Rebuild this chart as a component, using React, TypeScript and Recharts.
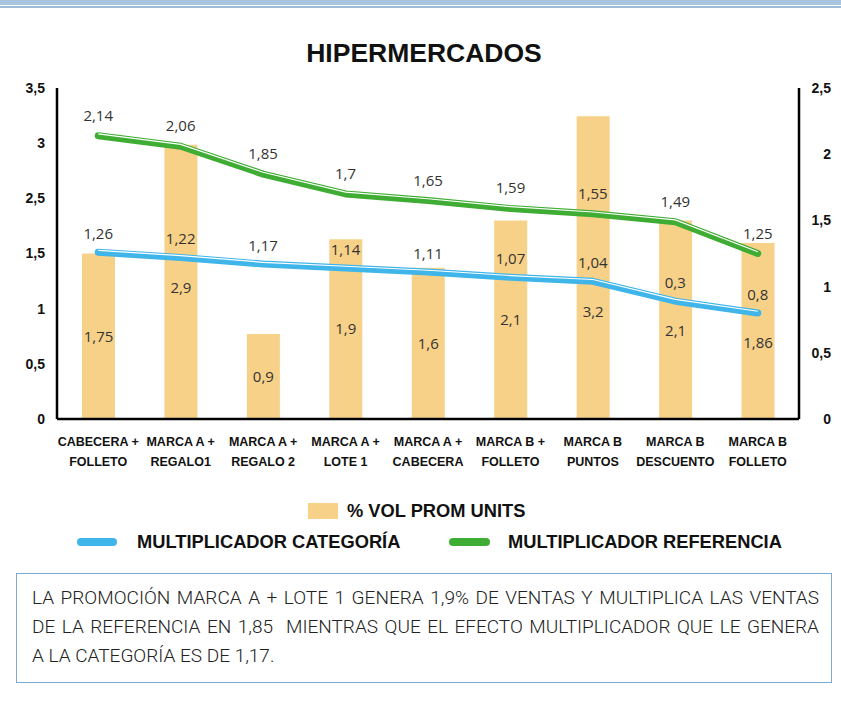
import React from "react";
import { ComposedChart, Bar, Line, XAxis, YAxis, LabelList } from "recharts";

const categories = [
  "CABECERA +\nFOLLETO",
  "MARCA A +\nREGALO1",
  "MARCA A +\nREGALO 2",
  "MARCA A +\nLOTE 1",
  "MARCA A +\nCABECERA",
  "MARCA B +\nFOLLETO",
  "MARCA B\nPUNTOS",
  "MARCA B\nDESCUENTO",
  "MARCA B\nFOLLETO",
];

const volPromUnits = [1.75, 2.9, 0.9, 1.9, 1.6, 2.1, 3.2, 2.1, 1.86];
const multCategoria = [1.26, 1.22, 1.17, 1.14, 1.11, 1.07, 1.04, 0.89, 0.8];
const multReferencia = [2.14, 2.06, 1.85, 1.7, 1.65, 1.59, 1.55, 1.49, 1.25];

// labels as printed in the original (one of them does not match its point)
const categoriaLabels = ["1,26", "1,22", "1,17", "1,14", "1,11", "1,07", "1,04", "0,3", "0,8"];

// left axis: evenly spaced ticks, labelled as in the original (no "2")
const leftTickLabels = ["0", "0,5", "1", "1,5", "2,5", "3", "3,5"];
const leftMax = 3.5;
const rightMax = 2.5;
const rightTicks = [0, 0.5, 1, 1.5, 2, 2.5];

const BAR_COLOR = "#F8D189";
const BLUE = "#3FB5E9";
const GREEN = "#3FAD33";
const FONT = "'Liberation Sans', Arial, sans-serif";

const comma = (v: number) => String(v).replace(".", ",");

const chartData = categories.map((name, i) => ({
  name,
  vol: volPromUnits[i],
  mcat: multCategoria[i],
  mcatLabel: categoriaLabels[i],
  mref: multReferencia[i],
  mrefLabel: comma(multReferencia[i]),
}));

const leftTicks = leftTickLabels.map((_, i) => (i * leftMax) / (leftTickLabels.length - 1));

const XTick = ({ x, y, payload }: any) => {
  const lines = String(payload.value).split("\n");
  return (
    <text x={x} y={y} textAnchor="middle" fontFamily={FONT} fontWeight={700} fontSize={12.5} fill="#111">
      {lines.map((l, i) => (
        <tspan key={i} x={x} dy={i === 0 ? 19 : 20}>
          {l}
        </tspan>
      ))}
    </text>
  );
};

const RightTick = ({ x, y, payload }: any) => (
  <text x={x + 32} y={y} dy="0.35em" textAnchor="end" fontFamily={FONT} fontWeight={700} fontSize={14} fill="#111">
    {comma(payload.value)}
  </text>
);

const labelStyle = {
  fontFamily: "'Open Sans', sans-serif",
  fontSize: 15,
  fill: "#333",
};

// bar value label: centred in the bar, but kept clear of the blue line
const BarValueLabel = (props: any) => {
  const { x, y, width, height, index } = props;
  const vol = volPromUnits[index];
  const bottom = y + height;
  const plotH = (height / vol) * leftMax;
  const blueY = bottom - (multCategoria[index] / rightMax) * plotH;
  const cy = Math.max(y + height / 2, blueY + 30);
  return (
    <text x={x + width / 2} y={cy} dy="0.35em" textAnchor="middle" style={labelStyle}>
      {comma(vol)}
    </text>
  );
};

const axisLine = { stroke: "#000", strokeWidth: 2.5 };

export default function App() {
  return (
    <div style={{ position: "relative", width: 841, height: 715, background: "#fff" }}>
      <style>{`body{margin:0} .hl{transform:translateY(-1.8px)}`}</style>
      <div style={{ position: "absolute", left: 0, top: 0, width: 841, height: 5, background: "#A9C5DD" }} />
      <div style={{ position: "absolute", left: 0, top: 6, width: 841, height: 2, background: "#9BBBD8" }} />
      <div
        style={{
          position: "absolute",
          left: 0,
          top: 38,
          width: 848,
          textAlign: "center",
          fontFamily: FONT,
          fontWeight: 700,
          fontSize: 26.5,
          color: "#111",
        }}
      >
        HIPERMERCADOS
      </div>
      <div style={{ position: "absolute", left: 0, top: 0 }}>
        <ComposedChart
          width={841}
          height={490}
          data={chartData}
          margin={{ top: 88, right: 0, left: 0, bottom: 29 }}
        >
          <XAxis dataKey="name" height={42} interval={0} axisLine={axisLine} tickLine={false} tick={<XTick />} />
          <XAxis xAxisId="top" dataKey="name" orientation="top" height={0} tick={false} tickLine={false} axisLine={axisLine} />
          <YAxis
            yAxisId="left"
            width={57}
            domain={[0, leftMax]}
            ticks={leftTicks}
            interval={0}
            tickFormatter={(_v: number, i: number) => leftTickLabels[i]}
            tickLine={false}
            tickSize={0}
            tickMargin={12}
            axisLine={axisLine}
            tick={{ fontFamily: FONT, fontWeight: 700, fontSize: 14, fill: "#111" }}
          />
          <YAxis
            yAxisId="right"
            orientation="right"
            width={42}
            domain={[0, rightMax]}
            ticks={rightTicks}
            interval={0}
            tickLine={false}
            tickSize={0}
            tickMargin={0}
            axisLine={axisLine}
            tick={<RightTick />}
          />
          <Bar yAxisId="left" dataKey="vol" fill={BAR_COLOR} barSize={33} isAnimationActive={false}>
            <LabelList dataKey="vol" content={<BarValueLabel />} />
          </Bar>
          <Line
            yAxisId="right"
            dataKey="mref"
            stroke={GREEN}
            strokeWidth={7}
            strokeLinecap="round"
            strokeLinejoin="round"
            dot={false}
            activeDot={false}
            isAnimationActive={false}
          >
            <LabelList dataKey="mrefLabel" position="top" offset={15} style={labelStyle} />
          </Line>
          <Line
            yAxisId="right"
            dataKey="mref"
            className="hl"
            stroke="#fff"
            strokeWidth={1.2}
            dot={false}
            activeDot={false}
            legendType="none"
            isAnimationActive={false}
          />
          <Line
            yAxisId="right"
            dataKey="mcat"
            stroke={BLUE}
            strokeWidth={7}
            strokeLinecap="round"
            strokeLinejoin="round"
            dot={false}
            activeDot={false}
            isAnimationActive={false}
          >
            <LabelList dataKey="mcatLabel" position="top" offset={13} style={labelStyle} />
          </Line>
          <Line
            yAxisId="right"
            dataKey="mcat"
            className="hl"
            stroke="#fff"
            strokeWidth={1.2}
            dot={false}
            activeDot={false}
            legendType="none"
            isAnimationActive={false}
          />
        </ComposedChart>
      </div>

      {/* legend */}
      <div
        style={{
          position: "absolute",
          left: 0,
          top: 0,
          width: 841,
          fontFamily: FONT,
          fontWeight: 700,
          fontSize: 18.3,
          color: "#111",
        }}
      >
        <div style={{ position: "absolute", left: 308, top: 503, width: 30, height: 16, background: BAR_COLOR }} />
        <div style={{ position: "absolute", left: 347, top: 500, lineHeight: "22px", whiteSpace: "nowrap" }}>% VOL PROM UNITS</div>
        <div style={{ position: "absolute", left: 77, top: 538, width: 40, height: 8, borderRadius: 4, background: BLUE }} />
        <div style={{ position: "absolute", left: 137, top: 531, lineHeight: "22px", whiteSpace: "nowrap" }}>MULTIPLICADOR CATEGORÍA</div>
        <div style={{ position: "absolute", left: 449, top: 538, width: 41, height: 8, borderRadius: 4, background: GREEN }} />
        <div style={{ position: "absolute", left: 508, top: 531, lineHeight: "22px", whiteSpace: "nowrap" }}>MULTIPLICADOR REFERENCIA</div>
      </div>

      {/* comment box */}
      <div
        style={{
          position: "absolute",
          left: 16,
          top: 573,
          width: 814,
          height: 108,
          border: "1.5px solid #7EA8CD",
          boxSizing: "content-box",
          fontFamily: "Roboto, sans-serif",
          fontWeight: 300,
          fontSize: 19,
          color: "#222",
        }}
      >
        <div style={{ position: "absolute", left: 15, top: 9, width: 787, lineHeight: "29px" }}>
          <div style={{ textAlign: "justify", textAlignLast: "justify", whiteSpace: "nowrap" }}>
            LA PROMOCIÓN MARCA A + LOTE 1 GENERA 1,9% DE VENTAS Y MULTIPLICA LAS VENTAS
          </div>
          <div style={{ textAlign: "justify", textAlignLast: "justify", whiteSpace: "nowrap" }}>
            DE LA REFERENCIA EN 1,85&nbsp; MIENTRAS QUE EL EFECTO MULTIPLICADOR QUE LE GENERA
          </div>
          <div>A LA CATEGORÍA ES DE 1,17.</div>
        </div>
      </div>
    </div>
  );
}
